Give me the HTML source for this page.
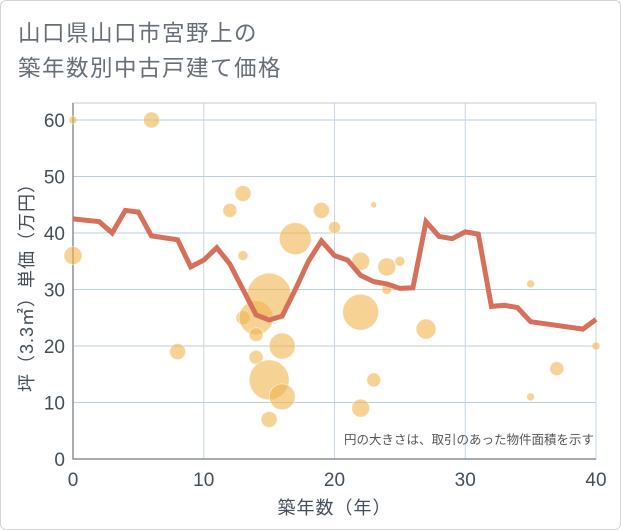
<!DOCTYPE html>
<html><head><meta charset="utf-8">
<style>
html,body{margin:0;padding:0;background:#fff;}
body{width:621px;height:530px;overflow:hidden;font-family:"Liberation Sans","Noto Sans CJK JP",sans-serif;}
#frame{position:absolute;left:0;top:0;width:619px;height:528px;border:1px solid #d4d4d4;border-radius:6px;}
.title{position:absolute;left:18px;font-size:22.5px;color:#666e78;letter-spacing:1.5px;white-space:nowrap;}
</style></head><body>
<div id="frame"></div>
<div class="title" style="top:16px">山口県山口市宮野上の</div>
<div class="title" style="top:51px">築年数別中古戸建て価格</div>
<svg id="chart" width="621" height="530" style="position:absolute;left:0;top:0"></svg>
<script>
const lineYears=[0,2,3,4,5,6,8,9,10,11,12,13,14,15,16,17,18,19,20,21,22,23,24,25,26,27,28,29,30,31,32,33,34,35,39,40];
const lineValues=[42.5,42,40,44,43.7,39.5,38.8,34,35.2,37.4,34.5,30,25.5,24.6,25.3,30,35,38.6,36,35.2,32.5,31.4,31,30.2,30.3,42,39.4,39,40.2,39.8,27,27.2,26.8,24.3,23,24.7];
const bubbleYears=[0,6,0,8,12,13,13,13,14,14,14,15,15,16,16,15,17,19,20,22,22,22,23,23,24,24,25,27,35,35,37,40];
const bubbleValues=[60,60,36,19,44,47,36,25,25,22,18,29,14,20,11,7,39,44,41,35,26,9,45,14,34,30,35,23,31,11,16,20];
const bubbleSizes=[4,8,9,8,7,8,5,7,17,7,7,22,20,13,13,8,16,8,6,9,18,9,3,7,9,5,5,10,4,4,7,4];
const xTicks=[0,10,20,30,40];
const yTicks=[0,10,20,30,40,50,60];
const X0=73,X1=596,Y0=459,Y1=120;
const xs=v=>X0+(X1-X0)*v/40;
const ys=v=>Y0-(Y0-Y1)*v/60;
const svg=document.getElementById('chart');
const NS='http://www.w3.org/2000/svg';
function mk(t,a){const e=document.createElementNS(NS,t);for(const k in a)e.setAttribute(k,a[k]);svg.appendChild(e);return e;}
// plot bg & grid
let r=mk('rect',{x:X0,y:103,width:X1-X0,height:Y0-103,fill:'#fff',stroke:'#c8c8c8'});


yTicks.forEach(v=>{
 let l=mk('line',{x1:X0,x2:X1,y1:ys(v),y2:ys(v),stroke:'#b9cde0','stroke-width':1});
 
 
 let t=mk('text',{x:X0-8,y:ys(v)+7,'text-anchor':'end','font-size':19,fill:'#444e5a'});
 t.textContent=v;
 
 
});
xTicks.forEach(v=>{
 let l=mk('line',{x1:xs(v),x2:xs(v),y1:103,y2:Y0,stroke:'#c6d6e6','stroke-width':1});
 
 
 let t=mk('text',{x:xs(v),y:Y0+27,'text-anchor':'middle','font-size':19,fill:'#444e5a'});
 t.textContent=v;
 
 
});
let ax=mk('path',{d:`M${X0} 103V${Y0}H${X1}`,fill:'none',stroke:'#8a9099','stroke-width':1.5});


// bubbles
bubbleYears.forEach((yr,i)=>{
 let c=mk('circle',{cx:xs(yr),cy:ys(bubbleValues[i]),r:bubbleSizes[i],fill:'#f0b44c','fill-opacity':0.6,stroke:'#fff','stroke-opacity':0.5});
 
 
});
// line
let d=lineYears.map((y,i)=>(i?'L':'M')+xs(y).toFixed(1)+' '+ys(lineValues[i]).toFixed(1)).join('');
let p=mk('path',{d:d,fill:'none',stroke:'#d6705a','stroke-width':5,'stroke-linejoin':'miter'});


// note
let n=mk('text',{x:594,y:444,'text-anchor':'end','font-size':12.5,fill:'#555'});
n.textContent='円の大きさは、取引のあった物件面積を示す';


// axis titles
let xt=mk('text',{x:(X0+X1)/2,y:514,'text-anchor':'middle','font-size':18,fill:'#444e5a','letter-spacing':1});
xt.textContent='築年数（年）';


let yt=mk('text',{x:0,y:0,'text-anchor':'middle','font-size':18,fill:'#444e5a','letter-spacing':1,transform:`translate(33 ${(Y0+103)/2+2}) rotate(-90)`});
yt.textContent='坪（3.3㎡）単価（万円）';


</script>
</body></html>
